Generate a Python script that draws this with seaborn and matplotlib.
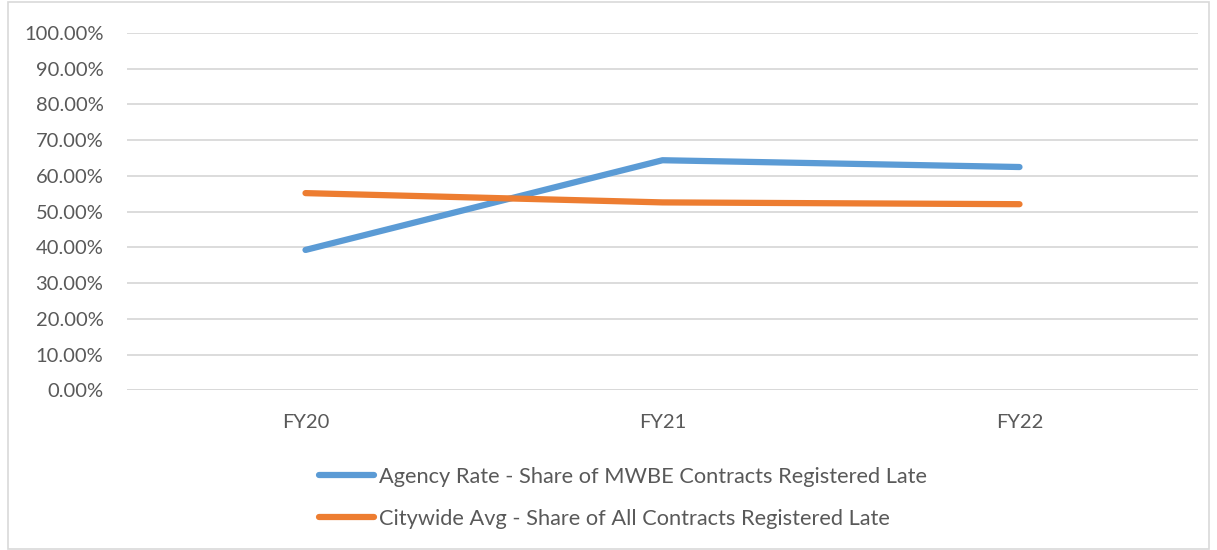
import pandas as pd
import matplotlib.pyplot as plt
import seaborn as sns
from matplotlib.patches import Rectangle
from matplotlib.ticker import FuncFormatter

# Dữ liệu
years = ["FY20", "FY21", "FY22"]
agency = [39.3, 64.4, 62.5]
citywide = [55.2, 52.6, 52.1]
labels = ["Agency Rate - Share of MWBE Contracts Registered Late",
          "Citywide Avg - Share of All Contracts Registered Late"]

df = pd.DataFrame({
    "Year": years * 2,
    "Value": agency + citywide,
    "Series": [labels[0]] * 3 + [labels[1]] * 3,
})

sns.set_theme(style="white")
plt.rcParams["font.family"] = ["Lato", "DejaVu Sans"]

fig = plt.figure(figsize=(12.17, 5.5), dpi=100)
ax = fig.add_axes([127 / 1217, 1 - 390.4 / 550, (1198 - 127) / 1217, (390.4 - 33) / 550])

sns.lineplot(data=df, x="Year", y="Value", hue="Series", sort=False,
             palette=["#5B9BD5", "#ED7D31"], linewidth=4.5, ax=ax,
             solid_capstyle="round")

ax.set_xlim(-0.5, 2.5)
ax.set_ylim(0, 100)
ax.set_yticks(range(0, 101, 10))
ax.yaxis.set_major_formatter(FuncFormatter(lambda v, p: f"{v:.2f}%"))
ax.grid(axis="y", color="#D9D9D9", linewidth=1.3)
ax.set_axisbelow(True)
for s in ax.spines.values():
    s.set_visible(False)
ax.axhline(0, color="#D9D9D9", linewidth=1.3, zorder=0)
ax.tick_params(axis="both", length=0, labelsize=14.5, colors="#595959")
ax.tick_params(axis="y", pad=17)
ax.tick_params(axis="x", pad=17)
ax.set_xlabel("")
ax.set_ylabel("")

handles, lbls = ax.get_legend_handles_labels()
ax.legend(handles, lbls, loc="upper left", bbox_to_anchor=(310 / 1217, 1 - 458 / 550),
          bbox_transform=fig.transFigure, frameon=False, ncol=1, fontsize=15.7,
          labelcolor="#595959", handlelength=2.55, handletextpad=0.2, labelspacing=1.0,
          borderaxespad=0)

fig.patches.append(Rectangle((8 / 1217, 0.002), 1 - 16 / 1217, 0.995, transform=fig.transFigure,
                             fill=False, edgecolor="#D9D9D9", linewidth=1.2))

plt.savefig("out.png", dpi=100)
